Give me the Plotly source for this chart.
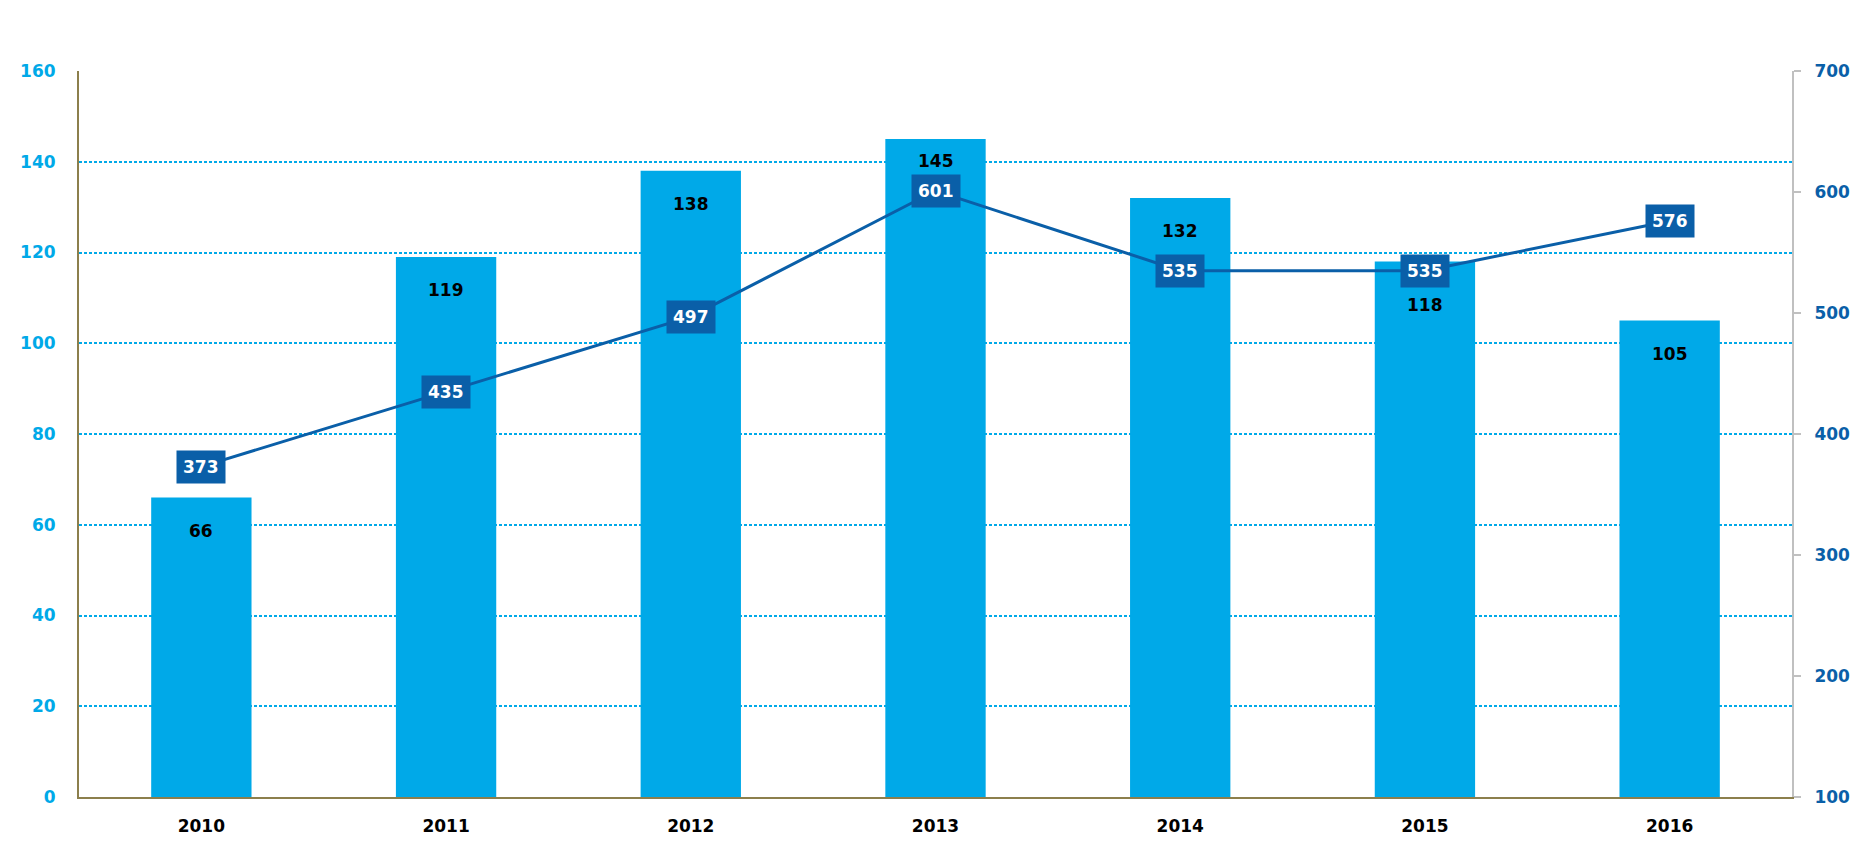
import plotly.graph_objects as go

# Data
years = ["2010", "2011", "2012", "2013", "2014", "2015", "2016"]
bar_values = [66, 119, 138, 145, 132, 118, 105]
line_values = [373, 435, 497, 601, 535, 535, 576]

BAR_BLUE = "#00a9e8"
DARK_BLUE = "#0a5fa8"
OLIVE = "#8c7f4c"
FONT = "DejaVu Sans"

# how far (px) each bar label sits below the top of its bar
label_drop = {"2013": -10, "2015": -31}
default_drop = -21

fig = go.Figure()

fig.add_trace(
    go.Bar(
        x=years,
        y=bar_values,
        marker=dict(color=BAR_BLUE, line=dict(width=0)),
        width=0.41,
        hoverinfo="skip",
    )
)

fig.add_trace(
    go.Scatter(
        x=years,
        y=line_values,
        yaxis="y2",
        mode="lines",
        line=dict(color=DARK_BLUE, width=3),
        hoverinfo="skip",
    )
)

# bar value labels inside the top of each bar
# (category index is used for x, numeric-looking names get read as indices)
for i, v in enumerate(bar_values):
    fig.add_annotation(
        x=i, y=v, xref="x", yref="y",
        text=str(v), showarrow=False,
        yanchor="top", yshift=label_drop.get(years[i], default_drop),
        font=dict(family=FONT, size=17, color="black", weight="bold"),
    )

# boxed labels on the line
for i, v in enumerate(line_values):
    fig.add_annotation(
        x=i, y=v, xref="x", yref="y2",
        text=str(v), showarrow=False,
        bgcolor=DARK_BLUE, borderpad=6,
        font=dict(family=FONT, size=17, color="white", weight="bold"),
    )

# page has an 8px body margin, so the figure is a bit smaller than the window
fig.update_layout(
    width=1854,
    height=849,
    margin=dict(l=70, r=67, t=63, b=60),
    paper_bgcolor="white",
    plot_bgcolor="white",
    showlegend=False,
    xaxis=dict(
        type="category",
        range=[-0.5, len(years) - 0.5],
        showgrid=False,
        showline=True,
        linecolor=OLIVE,
        linewidth=2,
        ticks="",
        ticklabelstandoff=13,
        tickfont=dict(family=FONT, size=17, color="black", weight="bold"),
    ),
    yaxis=dict(
        range=[0, 160],
        dtick=20,
        showline=True,
        linecolor=OLIVE,
        linewidth=2,
        showgrid=True,
        gridcolor=BAR_BLUE,
        gridwidth=2,
        griddash="3px,2px",
        zeroline=False,
        ticks="",
        ticklabelstandoff=18,
        tickfont=dict(family=FONT, size=17, color=BAR_BLUE, weight="bold"),
    ),
    yaxis2=dict(
        range=[100, 700],
        dtick=100,
        overlaying="y",
        side="right",
        showgrid=False,
        zeroline=False,
        showline=True,
        linecolor="#c0c0c0",
        linewidth=2,
        ticks="outside",
        ticklen=7,
        tickwidth=2,
        tickcolor="#c0c0c0",
        ticklabelstandoff=10,
        tickfont=dict(family=FONT, size=17, color=DARK_BLUE, weight="bold"),
    ),
)

fig.write_html("out.html")
